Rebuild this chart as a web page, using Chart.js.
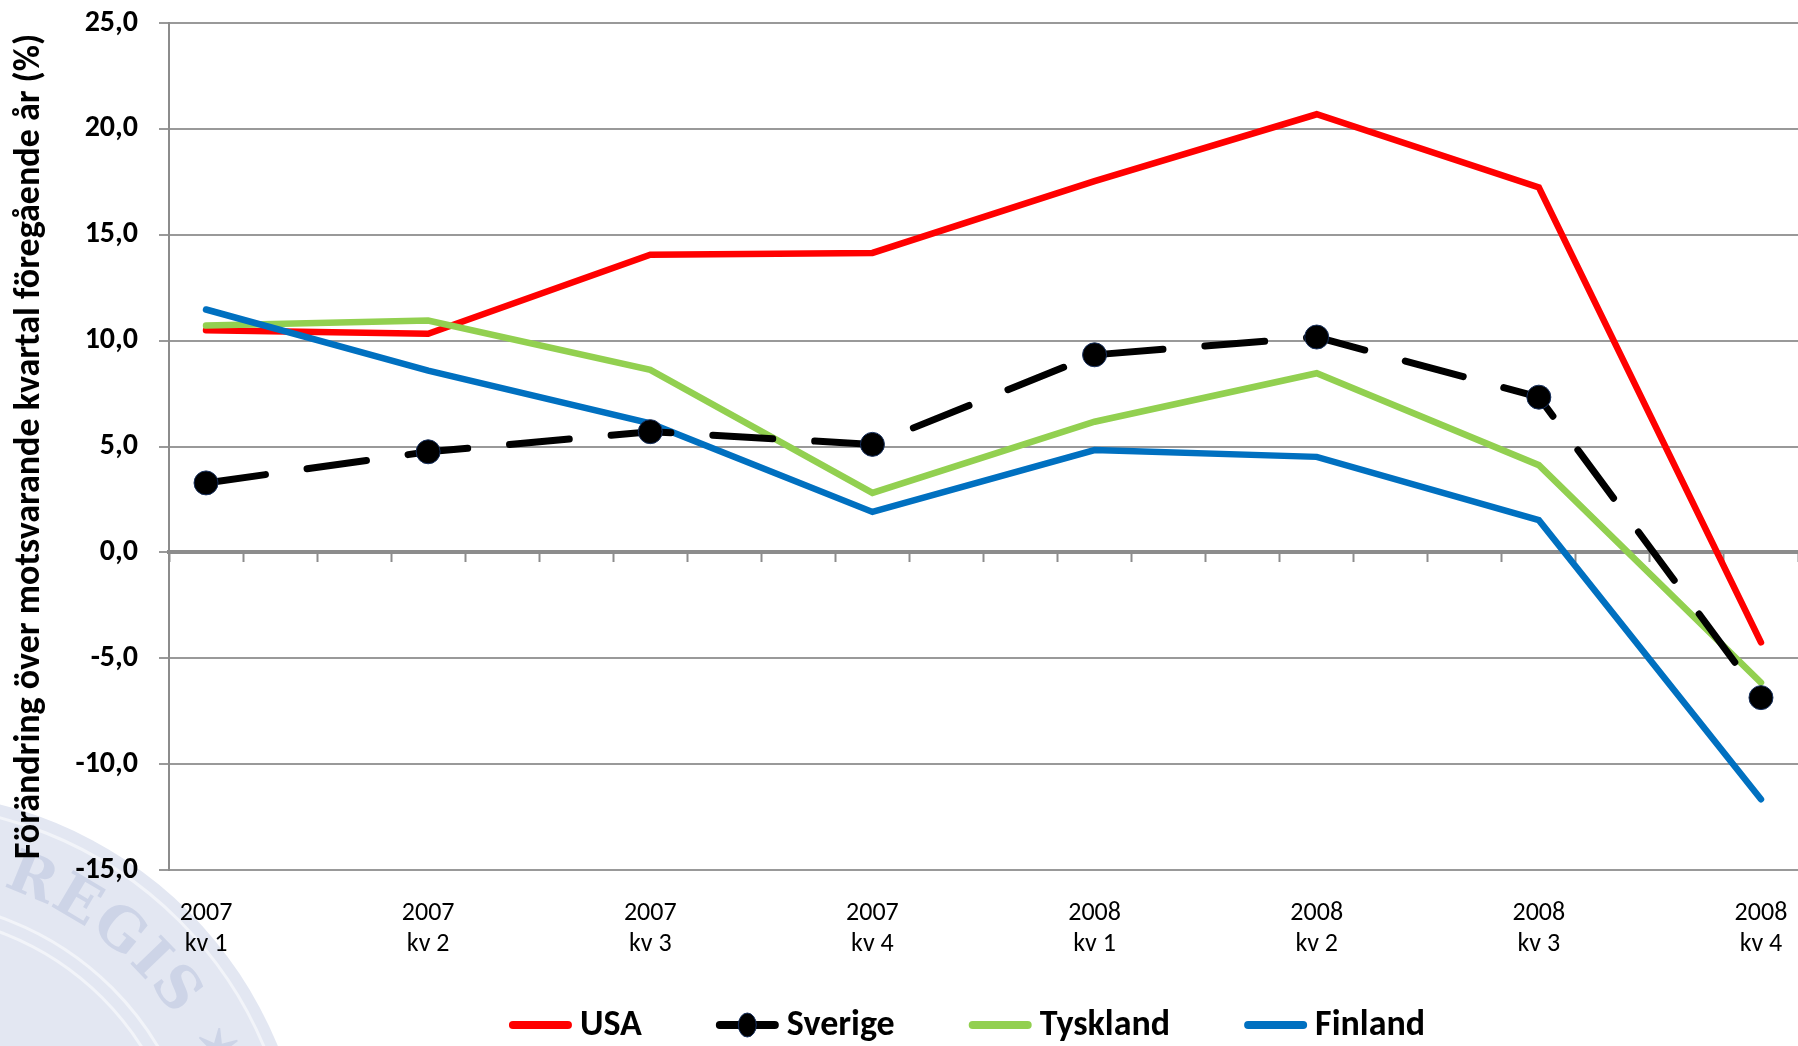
<!DOCTYPE html>
<html><head><meta charset="utf-8">
<script src="https://cdn.jsdelivr.net/npm/chart.js@4/dist/chart.umd.min.js"></script>
<style>html,body{margin:0;padding:0;background:#fff;overflow:hidden}#wrap{width:1798px;height:1046px;position:relative}canvas{display:block}</style>
</head><body><div id="wrap"><canvas id="c" width="1798" height="1046"></canvas></div>
<script>
// ---- data ----
const years    = ['2007','2007','2007','2007','2008','2008','2008','2008'];
const quarters = ['kv 1','kv 2','kv 3','kv 4','kv 1','kv 2','kv 3','kv 4'];
const usa      = [10.49, 10.32, 14.06, 14.14, 17.53, 20.69, 17.24, -4.25];
const sverige  = [3.28, 4.75, 5.70, 5.10, 9.33, 10.17, 7.33, -6.86];
const tyskland = [10.71, 10.95, 8.62, 2.81, 6.17, 8.46, 4.12, -6.15];
const finland  = [11.47, 8.58, 6.09, 1.91, 4.83, 4.51, 1.52, -11.66];
const seriesNames = ['USA', 'Sverige', 'Tyskland', 'Finland'];
const yTickValues = [-15, -10, -5, 0, 5, 10, 15, 20, 25];
const yTitle = 'Förändring över motsvarande kvartal föregående år (%)';

const FONT = "Carlito, Lato, 'Open Sans', sans-serif";
// each quarter occupies 3 month slots on the horizontal axis; a point sits in the middle of its first slot
const slotOf = i => 0.5 + 3 * i;
const toPoints = arr => arr.map((v, i) => ({x: slotOf(i), y: v}));

const sealPlugin = {
  id: 'seal',
  beforeDraw(chart) {
    const ctx = chart.ctx;
    ctx.save();
    const cx = -100, cy = 1200;
    ctx.fillStyle = '#e3e7f2';
    ctx.beginPath(); ctx.arc(cx, cy, 408, 0, Math.PI * 2); ctx.fill();
    ctx.strokeStyle = '#f2f4f9'; ctx.lineWidth = 3;
    [395, 300, 286].forEach(r => { ctx.beginPath(); ctx.arc(cx, cy, r, 0, Math.PI * 2); ctx.stroke(); });
    ctx.fillStyle = '#cdd4e7';
    ctx.font = "bold 58px 'DejaVu Serif', serif";
    ctx.textAlign = 'center'; ctx.textBaseline = 'middle';
    const txt = 'REGIS \u2736 R';
    let ang = -72 * Math.PI / 180;
    const r = 345;
    for (const ch of txt) {
      const w = ctx.measureText(ch).width;
      const da = (w + 4) / r;
      ang += da / 2;
      ctx.save();
      ctx.translate(cx + r * Math.cos(ang), cy + r * Math.sin(ang));
      ctx.rotate(ang + Math.PI / 2);
      ctx.fillText(ch, 0, 0);
      ctx.restore();
      ang += da / 2;
    }
    ctx.restore();
  }
};

const legendPlugin = {
  id: 'bottomLegend',
  afterDraw(chart) {
    const ctx = chart.ctx;
    const ds = chart.data.datasets;
    ctx.save();
    ctx.font = `bold 36px ${FONT}`;
    const lineW = 63, gap = 8, spacing = 74, centerX = 967, y = 1025;
    const widths = ds.map(d => lineW + gap + ctx.measureText(d.label).width);
    const total = widths.reduce((a, b) => a + b, 0) + spacing * (ds.length - 1);
    let x = centerX - total / 2;
    ds.forEach((d, i) => {
      ctx.strokeStyle = d.borderColor; ctx.lineWidth = 8; ctx.lineCap = 'round';
      ctx.setLineDash([]);
      ctx.beginPath(); ctx.moveTo(x + 4, y); ctx.lineTo(x + lineW - 4, y); ctx.stroke();
      if (d.pointRadius > 0) {
        ctx.fillStyle = d.pointBackgroundColor; ctx.strokeStyle = d.pointBorderColor; ctx.lineWidth = 1;
        ctx.beginPath(); ctx.ellipse(x + lineW / 2, y, 9, 12, 0, 0, Math.PI * 2); ctx.fill(); ctx.stroke();
      }
      ctx.fillStyle = '#000'; ctx.textAlign = 'left'; ctx.textBaseline = 'middle';
      ctx.fillText(d.label, x + lineW + gap, y + 1);
      x += widths[i] + spacing;
    });
    ctx.restore();
  }
};

const lineDs = (label, data, color) => ({
  label, data: toPoints(data), borderColor: color, backgroundColor: color,
  borderWidth: 6.5, pointRadius: 0, pointHoverRadius: 0, tension: 0, fill: false,
  borderJoinStyle: 'miter', borderCapStyle: 'round', xAxisID: 'x', yAxisID: 'y'
});

const datasets = [
  lineDs(seriesNames[0], usa, '#ff0000'),
  {
    label: seriesNames[1], data: toPoints(sverige), borderColor: '#000000', backgroundColor: '#000000',
    borderWidth: 7, borderDash: [60, 42], borderCapStyle: 'round', tension: 0, fill: false,
    pointRadius: 12, pointHoverRadius: 12, pointBackgroundColor: '#000000', pointBorderColor: '#17305e', pointBorderWidth: 1,
    xAxisID: 'x', yAxisID: 'y'
  },
  lineDs(seriesNames[2], tyskland, '#92d050'),
  lineDs(seriesNames[3], finland, '#0070c0')
];
// draw order: Sverige on top of the other lines
datasets[0].order = 4; datasets[1].order = 1; datasets[2].order = 3; datasets[3].order = 2;

new Chart(document.getElementById('c'), {
  type: 'line',
  data: { datasets },
  plugins: [sealPlugin, legendPlugin],
  options: {
    responsive: false, devicePixelRatio: 1, animation: false,
    layout: { autoPadding: false, padding: { top: 23, right: 0, left: 0, bottom: 76 } },
    plugins: { legend: { display: false }, tooltip: { enabled: false } },
    scales: {
      x: {
        type: 'linear', position: 'bottom', min: 0, max: 22,
        afterFit(s) { s.height = 100; s.paddingLeft = 0; s.paddingRight = 0; },
        afterBuildTicks(s) { s.ticks = years.map((_, i) => ({ value: slotOf(i) })); },
        grid: { display: false, drawTicks: false },
        border: { display: false },
        ticks: {
          autoSkip: false, maxRotation: 0, minRotation: 0, padding: 28,
          color: '#000', font: { family: FONT, size: 26, lineHeight: 1.2 },
          callback(v) { const i = Math.round((v - 0.5) / 3); return [years[i], quarters[i]]; }
        }
      },
      x0: {
        type: 'linear', position: { y: 0 }, min: 0, max: 22,
        afterFit(s) { s.paddingLeft = 0; s.paddingRight = 0; },
        ticks: { display: false, stepSize: 1, autoSkip: false },
        grid: { display: true, drawOnChartArea: false, drawTicks: true, tickLength: 8, tickWidth: 2, color: '#8c8c8c' },
        border: { display: true, color: '#8c8c8c', width: 4 }
      },
      y: {
        type: 'linear', position: 'left', min: -15, max: 25,
        afterFit(s) { s.width = 169; s.paddingTop = 0; s.paddingBottom = 0; },
        afterBuildTicks(s) { s.ticks = yTickValues.map(v => ({ value: v })); },
        grid: { color: '#999999', lineWidth: 2, tickLength: 10, tickColor: '#999999', tickWidth: 2 },
        border: { display: true, color: '#8c8c8c', width: 2 },
        ticks: {
          padding: 21, color: '#000', font: { family: FONT, size: 30, weight: 'bold' },
          callback(v) { return v.toFixed(1).replace('.', ','); }
        },
        title: {
          display: true, text: yTitle, color: '#000', padding: { top: 8, bottom: 0 },
          font: { family: FONT, size: 36, weight: 'bold' }
        }
      }
    }
  }
});
</script></body></html>
